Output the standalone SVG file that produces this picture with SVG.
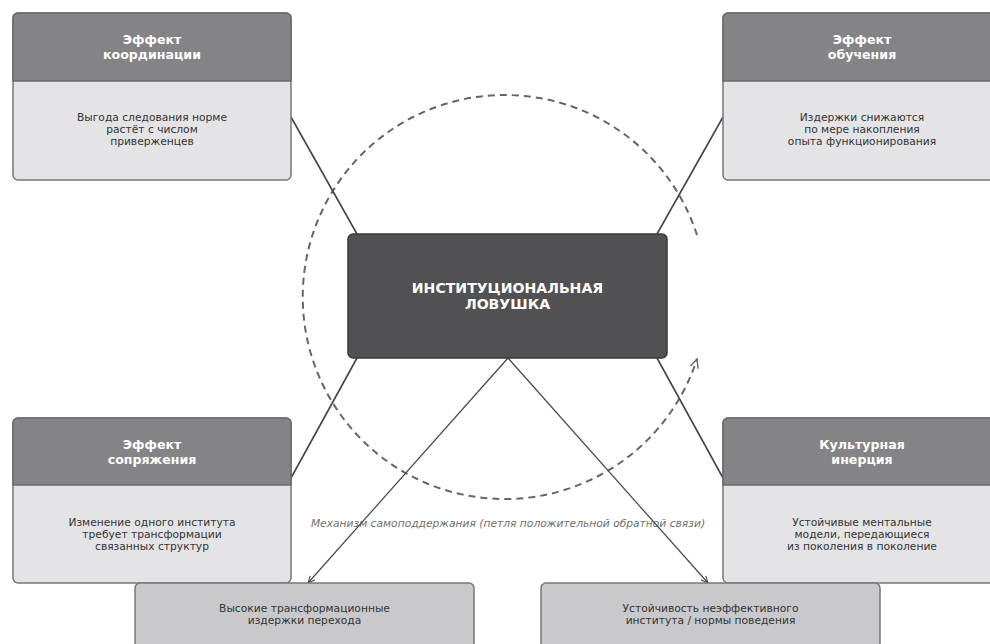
<svg xmlns="http://www.w3.org/2000/svg" width="990" height="644" viewBox="0 0 990 644">
<defs>
<marker id="arr" viewBox="0 0 10 10" refX="9" refY="5" markerWidth="8" markerHeight="8" orient="auto-start-reverse" markerUnits="userSpaceOnUse">
<path d="M0,1 L9,5 L0,9" fill="none" stroke="#444" stroke-width="1.3"/>
</marker>
<marker id="arrd" viewBox="0 0 10 10" refX="9" refY="5" markerWidth="10" markerHeight="10" orient="auto" markerUnits="userSpaceOnUse">
<path d="M0,1 L9,5 L0,9" fill="none" stroke="#666" stroke-width="1.4"/>
</marker>
<style>
.body{fill:#e4e4e6;stroke:#777;stroke-width:1.5}
.head{fill:#848486;stroke:#6a6a6a;stroke-width:1.5}
.ht{font-family:"DejaVu Sans",sans-serif;font-weight:bold;font-size:12.6px;fill:#fff;text-anchor:middle}
.bt{font-family:"DejaVu Sans",sans-serif;font-size:10.7px;fill:#333;text-anchor:middle}
.out{fill:#c9c9cb;stroke:#777;stroke-width:1.5}
.link{stroke:#444;stroke-width:1.6;fill:none}
.arrow{stroke:#444;stroke-width:1.2;fill:none}
</style>
</defs>
<rect width="990" height="644" fill="#fff"/>

<g id="loop">
<path d="M 697 235 A 202 202 0 1 0 697 359" fill="none" stroke="#666" stroke-width="2" stroke-dasharray="7,5" marker-end="url(#arrd)"/>
<text x="508" y="527" font-family="DejaVu Sans, sans-serif" font-size="10.7" font-style="italic" fill="#707070" text-anchor="middle">Механизм самоподдержания (петля положительной обратной связи)</text>
</g>

<g id="connectors">
<line class="link" x1="291" y1="117" x2="357" y2="234"/>
<line class="link" x1="723" y1="117" x2="657" y2="234"/>
<line class="link" x1="291" y1="478" x2="357" y2="358"/>
<line class="link" x1="723" y1="478" x2="657" y2="358"/>
<line class="arrow" x1="508" y1="358" x2="308" y2="583" marker-end="url(#arr)"/>
<line class="arrow" x1="508" y1="358" x2="708" y2="583" marker-end="url(#arr)"/>
</g>

<g id="center">
<rect x="348" y="234" width="319" height="124" rx="5" fill="#515153" stroke="#3a3a3a" stroke-width="1.5"/>
<text x="507.5" y="293" font-family="DejaVu Sans, sans-serif" font-weight="bold" font-size="14.1" fill="#fff" text-anchor="middle">ИНСТИТУЦИОНАЛЬНАЯ</text>
<text x="507.5" y="309" font-family="DejaVu Sans, sans-serif" font-weight="bold" font-size="14.1" fill="#fff" text-anchor="middle">ЛОВУШКА</text>
</g>

<g id="coord">
<rect class="body" x="13" y="13" width="278" height="167" rx="5"/>
<path class="head" d="M13,81 V18 A5,5 0 0 1 18,13 H286 A5,5 0 0 1 291,18 V81 Z"/>
<text class="ht" x="152" y="44">Эффект</text>
<text class="ht" x="152" y="59">координации</text>
<text class="bt" x="152" y="121">Выгода следования норме</text>
<text class="bt" x="152" y="133">растёт с числом</text>
<text class="bt" x="152" y="145">приверженцев</text>
</g>

<g id="learn">
<rect class="body" x="723" y="13" width="278" height="167" rx="5"/>
<path class="head" d="M723,81 V18 A5,5 0 0 1 728,13 H996 A5,5 0 0 1 1001,18 V81 Z"/>
<text class="ht" x="862" y="44">Эффект</text>
<text class="ht" x="862" y="59">обучения</text>
<text class="bt" x="862" y="121">Издержки снижаются</text>
<text class="bt" x="862" y="133">по мере накопления</text>
<text class="bt" x="862" y="145">опыта функционирования</text>
</g>

<g id="coupling">
<rect class="body" x="13" y="418" width="278" height="165" rx="5"/>
<path class="head" d="M13,485 V423 A5,5 0 0 1 18,418 H286 A5,5 0 0 1 291,423 V485 Z"/>
<text class="ht" x="152" y="449">Эффект</text>
<text class="ht" x="152" y="464">сопряжения</text>
<text class="bt" x="152" y="526">Изменение одного института</text>
<text class="bt" x="152" y="538">требует трансформации</text>
<text class="bt" x="152" y="550">связанных структур</text>
</g>

<g id="culture">
<rect class="body" x="723" y="418" width="278" height="165" rx="5"/>
<path class="head" d="M723,485 V423 A5,5 0 0 1 728,418 H996 A5,5 0 0 1 1001,423 V485 Z"/>
<text class="ht" x="862" y="449">Культурная</text>
<text class="ht" x="862" y="464">инерция</text>
<text class="bt" x="862" y="526">Устойчивые ментальные</text>
<text class="bt" x="862" y="538">модели, передающиеся</text>
<text class="bt" x="862" y="550">из поколения в поколение</text>
</g>

<g id="costs">
<rect class="out" x="135" y="583" width="339" height="75" rx="5"/>
<text class="bt" x="304.5" y="612">Высокие трансформационные</text>
<text class="bt" x="304.5" y="624">издержки перехода</text>
</g>

<g id="stability">
<rect class="out" x="541" y="583" width="339" height="75" rx="5"/>
<text class="bt" x="710.5" y="612">Устойчивость неэффективного</text>
<text class="bt" x="710.5" y="624">института / нормы поведения</text>
</g>
</svg>
